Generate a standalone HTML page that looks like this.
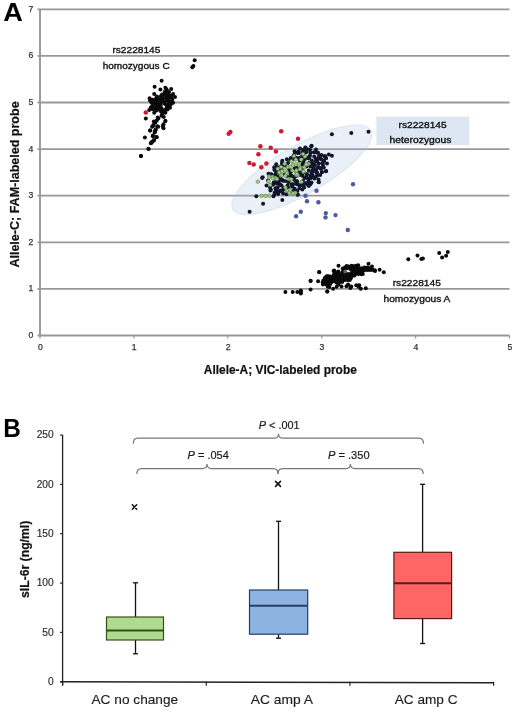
<!DOCTYPE html>
<html><head><meta charset="utf-8"><style>
html,body{margin:0;padding:0;background:#fff;overflow:hidden;}
svg{display:block;will-change:transform;}
text{font-family:"Liberation Sans",sans-serif;}
.tk{font-size:8.6px;fill:#333;stroke:#333;stroke-width:0.25px;}
.an{font-size:9.9px;fill:#111;stroke:#111;stroke-width:0.35px;}
.at{font-size:12px;font-weight:bold;fill:#111;stroke:#111;stroke-width:0.2px;}
.pl{font-size:25px;font-weight:bold;fill:#000;}
.tb{font-size:10.2px;fill:#2a2a2a;stroke:#2a2a2a;stroke-width:0.15px;}
.pv{font-size:11.4px;fill:#1a1a1a;stroke:#1a1a1a;stroke-width:0.2px;}
.cl{font-size:13px;fill:#1e1e1e;stroke:#1e1e1e;stroke-width:0.15px;}
.xo{font-size:9px;font-weight:bold;fill:#111;}
</style></head><body>
<svg width="520" height="712" viewBox="0 0 520 712">
<rect width="520" height="712" fill="#fff"/>
<line x1="37.5" y1="288.9" x2="509.5" y2="288.9" stroke="#989898" stroke-width="1.8"/>
<line x1="37.5" y1="242.3" x2="509.5" y2="242.3" stroke="#989898" stroke-width="1.8"/>
<line x1="37.5" y1="195.7" x2="509.5" y2="195.7" stroke="#989898" stroke-width="1.8"/>
<line x1="37.5" y1="149.1" x2="509.5" y2="149.1" stroke="#989898" stroke-width="1.8"/>
<line x1="37.5" y1="102.5" x2="509.5" y2="102.5" stroke="#989898" stroke-width="1.8"/>
<line x1="37.5" y1="55.9" x2="509.5" y2="55.9" stroke="#989898" stroke-width="1.8"/>
<line x1="37.5" y1="9.3" x2="509.5" y2="9.3" stroke="#989898" stroke-width="1.8"/>
<line x1="40.0" y1="9.3" x2="40.0" y2="336.2" stroke="#989898" stroke-width="1.9"/>
<line x1="37.5" y1="335.5" x2="509.5" y2="335.5" stroke="#989898" stroke-width="1.9"/>
<line x1="40.0" y1="335.5" x2="40.0" y2="338.5" stroke="#989898" stroke-width="1.2"/>
<line x1="133.9" y1="335.5" x2="133.9" y2="338.5" stroke="#989898" stroke-width="1.2"/>
<line x1="227.8" y1="335.5" x2="227.8" y2="338.5" stroke="#989898" stroke-width="1.2"/>
<line x1="321.7" y1="335.5" x2="321.7" y2="338.5" stroke="#989898" stroke-width="1.2"/>
<line x1="415.6" y1="335.5" x2="415.6" y2="338.5" stroke="#989898" stroke-width="1.2"/>
<line x1="509.5" y1="335.5" x2="509.5" y2="338.5" stroke="#989898" stroke-width="1.2"/>
<text x="33.4" y="337.9" class="tk" text-anchor="end">0</text>
<text x="33.4" y="291.3" class="tk" text-anchor="end">1</text>
<text x="33.4" y="244.7" class="tk" text-anchor="end">2</text>
<text x="33.4" y="198.1" class="tk" text-anchor="end">3</text>
<text x="33.4" y="151.5" class="tk" text-anchor="end">4</text>
<text x="33.4" y="104.9" class="tk" text-anchor="end">5</text>
<text x="33.4" y="58.3" class="tk" text-anchor="end">6</text>
<text x="33.4" y="11.7" class="tk" text-anchor="end">7</text>
<text x="40.3" y="350.1" class="tk" text-anchor="middle">0</text>
<text x="134.2" y="350.1" class="tk" text-anchor="middle">1</text>
<text x="228.1" y="350.1" class="tk" text-anchor="middle">2</text>
<text x="322.0" y="350.1" class="tk" text-anchor="middle">3</text>
<text x="415.9" y="350.1" class="tk" text-anchor="middle">4</text>
<text x="509.8" y="350.1" class="tk" text-anchor="middle">5</text>
<ellipse cx="301.8" cy="169.7" rx="79.5" ry="24.3" transform="rotate(-29.8 301.8 169.7)" fill="#a9bfe2" fill-opacity="0.24" stroke="#a9bfe2" stroke-opacity="0.35" stroke-width="1"/>
<circle cx="161.6" cy="80.7" r="2.0" fill="#0a0a0a"/>
<circle cx="154.6" cy="86.8" r="2.0" fill="#0a0a0a"/>
<circle cx="160.4" cy="89.5" r="2.0" fill="#0a0a0a"/>
<circle cx="165.4" cy="87.8" r="2.0" fill="#0a0a0a"/>
<circle cx="166.5" cy="89.3" r="2.0" fill="#0a0a0a"/>
<circle cx="171.2" cy="89.1" r="2.0" fill="#0a0a0a"/>
<circle cx="154.2" cy="93.9" r="2.0" fill="#0a0a0a"/>
<circle cx="156.9" cy="96.6" r="2.0" fill="#0a0a0a"/>
<circle cx="160.8" cy="96.2" r="2.0" fill="#0a0a0a"/>
<circle cx="164.6" cy="92.0" r="2.0" fill="#0a0a0a"/>
<circle cx="166.5" cy="93.5" r="2.0" fill="#0a0a0a"/>
<circle cx="169.2" cy="95.1" r="2.0" fill="#0a0a0a"/>
<circle cx="173.1" cy="93.9" r="2.0" fill="#0a0a0a"/>
<circle cx="175.0" cy="97.0" r="2.0" fill="#0a0a0a"/>
<circle cx="149.6" cy="98.2" r="2.0" fill="#0a0a0a"/>
<circle cx="150.0" cy="100.5" r="2.0" fill="#0a0a0a"/>
<circle cx="152.3" cy="99.7" r="2.0" fill="#0a0a0a"/>
<circle cx="153.5" cy="102.0" r="2.0" fill="#0a0a0a"/>
<circle cx="155.4" cy="101.2" r="2.0" fill="#0a0a0a"/>
<circle cx="158.1" cy="100.5" r="2.0" fill="#0a0a0a"/>
<circle cx="160.4" cy="99.3" r="2.0" fill="#0a0a0a"/>
<circle cx="163.1" cy="98.2" r="2.0" fill="#0a0a0a"/>
<circle cx="166.2" cy="97.4" r="2.0" fill="#0a0a0a"/>
<circle cx="168.5" cy="98.5" r="2.0" fill="#0a0a0a"/>
<circle cx="170.8" cy="97.4" r="2.0" fill="#0a0a0a"/>
<circle cx="172.3" cy="99.7" r="2.0" fill="#0a0a0a"/>
<circle cx="173.1" cy="102.8" r="2.0" fill="#0a0a0a"/>
<circle cx="170.8" cy="102.0" r="2.0" fill="#0a0a0a"/>
<circle cx="168.5" cy="101.2" r="2.0" fill="#0a0a0a"/>
<circle cx="166.2" cy="100.5" r="2.0" fill="#0a0a0a"/>
<circle cx="163.1" cy="101.2" r="2.0" fill="#0a0a0a"/>
<circle cx="160.8" cy="102.4" r="2.0" fill="#0a0a0a"/>
<circle cx="158.5" cy="103.5" r="2.0" fill="#0a0a0a"/>
<circle cx="156.2" cy="103.9" r="2.0" fill="#0a0a0a"/>
<circle cx="153.8" cy="104.3" r="2.0" fill="#0a0a0a"/>
<circle cx="152.3" cy="105.8" r="2.0" fill="#0a0a0a"/>
<circle cx="150.8" cy="107.4" r="2.0" fill="#0a0a0a"/>
<circle cx="149.2" cy="110.1" r="2.0" fill="#0a0a0a"/>
<circle cx="153.5" cy="108.9" r="2.0" fill="#0a0a0a"/>
<circle cx="154.2" cy="112.8" r="2.0" fill="#0a0a0a"/>
<circle cx="156.2" cy="107.4" r="2.0" fill="#0a0a0a"/>
<circle cx="158.5" cy="106.6" r="2.0" fill="#0a0a0a"/>
<circle cx="160.8" cy="105.1" r="2.0" fill="#0a0a0a"/>
<circle cx="161.5" cy="108.2" r="2.0" fill="#0a0a0a"/>
<circle cx="166.2" cy="105.1" r="2.0" fill="#0a0a0a"/>
<circle cx="168.5" cy="104.3" r="2.0" fill="#0a0a0a"/>
<circle cx="170.8" cy="104.3" r="2.0" fill="#0a0a0a"/>
<circle cx="170.0" cy="107.8" r="2.0" fill="#0a0a0a"/>
<circle cx="166.9" cy="107.4" r="2.0" fill="#0a0a0a"/>
<circle cx="165.4" cy="109.7" r="2.0" fill="#0a0a0a"/>
<circle cx="163.1" cy="110.5" r="2.0" fill="#0a0a0a"/>
<circle cx="160.8" cy="111.2" r="2.0" fill="#0a0a0a"/>
<circle cx="162.3" cy="113.5" r="2.0" fill="#0a0a0a"/>
<circle cx="165.4" cy="112.8" r="2.0" fill="#0a0a0a"/>
<circle cx="161.5" cy="115.8" r="2.0" fill="#0a0a0a"/>
<circle cx="157.7" cy="117.4" r="2.0" fill="#0a0a0a"/>
<circle cx="163.8" cy="117.0" r="2.0" fill="#0a0a0a"/>
<circle cx="167.5" cy="95.5" r="2.0" fill="#0a0a0a"/>
<circle cx="164.0" cy="95.0" r="2.0" fill="#0a0a0a"/>
<circle cx="162.0" cy="94.5" r="2.0" fill="#0a0a0a"/>
<circle cx="167.0" cy="91.0" r="2.0" fill="#0a0a0a"/>
<circle cx="169.0" cy="92.0" r="2.0" fill="#0a0a0a"/>
<circle cx="171.5" cy="96.0" r="2.0" fill="#0a0a0a"/>
<circle cx="157.5" cy="98.5" r="2.0" fill="#0a0a0a"/>
<circle cx="155.5" cy="99.0" r="2.0" fill="#0a0a0a"/>
<circle cx="151.5" cy="102.5" r="2.0" fill="#0a0a0a"/>
<circle cx="157.0" cy="105.5" r="2.0" fill="#0a0a0a"/>
<circle cx="155.0" cy="106.0" r="2.0" fill="#0a0a0a"/>
<circle cx="152.0" cy="109.0" r="2.0" fill="#0a0a0a"/>
<circle cx="168.0" cy="99.5" r="2.0" fill="#0a0a0a"/>
<circle cx="164.5" cy="103.5" r="2.0" fill="#0a0a0a"/>
<circle cx="169.5" cy="106.0" r="2.0" fill="#0a0a0a"/>
<circle cx="167.5" cy="109.5" r="2.0" fill="#0a0a0a"/>
<circle cx="158.5" cy="109.0" r="2.0" fill="#0a0a0a"/>
<circle cx="156.5" cy="110.5" r="2.0" fill="#0a0a0a"/>
<circle cx="145.8" cy="118.4" r="2.0" fill="#0a0a0a"/>
<circle cx="165.4" cy="121.1" r="2.0" fill="#0a0a0a"/>
<circle cx="158.4" cy="118.6" r="2.0" fill="#0a0a0a"/>
<circle cx="155.3" cy="122.4" r="2.0" fill="#0a0a0a"/>
<circle cx="153.4" cy="124.9" r="2.0" fill="#0a0a0a"/>
<circle cx="152.1" cy="126.8" r="2.0" fill="#0a0a0a"/>
<circle cx="157.2" cy="126.2" r="2.0" fill="#0a0a0a"/>
<circle cx="162.9" cy="126.8" r="2.0" fill="#0a0a0a"/>
<circle cx="163.5" cy="124.3" r="2.0" fill="#0a0a0a"/>
<circle cx="153.8" cy="121.4" r="2.0" fill="#0a0a0a"/>
<circle cx="156.7" cy="120.5" r="2.0" fill="#0a0a0a"/>
<circle cx="165.4" cy="121.0" r="2.0" fill="#0a0a0a"/>
<circle cx="152.9" cy="126.3" r="2.0" fill="#0a0a0a"/>
<circle cx="158.2" cy="126.7" r="2.0" fill="#0a0a0a"/>
<circle cx="163.0" cy="125.8" r="2.0" fill="#0a0a0a"/>
<circle cx="163.5" cy="128.2" r="2.0" fill="#0a0a0a"/>
<circle cx="150.2" cy="130.6" r="2.0" fill="#0a0a0a"/>
<circle cx="155.3" cy="130.6" r="2.0" fill="#0a0a0a"/>
<circle cx="154.7" cy="132.5" r="2.0" fill="#0a0a0a"/>
<circle cx="152.8" cy="136.3" r="2.0" fill="#0a0a0a"/>
<circle cx="156.5" cy="137.0" r="2.0" fill="#0a0a0a"/>
<circle cx="144.9" cy="137.6" r="2.0" fill="#0a0a0a"/>
<circle cx="154.0" cy="140.1" r="2.0" fill="#0a0a0a"/>
<circle cx="152.1" cy="142.0" r="2.0" fill="#0a0a0a"/>
<circle cx="150.9" cy="143.3" r="2.0" fill="#0a0a0a"/>
<circle cx="148.6" cy="149.0" r="2.0" fill="#0a0a0a"/>
<circle cx="141.0" cy="155.9" r="2.0" fill="#0a0a0a"/>
<circle cx="150.0" cy="130.6" r="2.0" fill="#0a0a0a"/>
<circle cx="154.8" cy="131.5" r="2.0" fill="#0a0a0a"/>
<circle cx="155.8" cy="129.6" r="2.0" fill="#0a0a0a"/>
<circle cx="152.9" cy="135.4" r="2.0" fill="#0a0a0a"/>
<circle cx="156.7" cy="137.3" r="2.0" fill="#0a0a0a"/>
<circle cx="153.8" cy="140.4" r="2.0" fill="#0a0a0a"/>
<circle cx="152.4" cy="141.6" r="2.0" fill="#0a0a0a"/>
<circle cx="151.0" cy="143.1" r="2.0" fill="#0a0a0a"/>
<circle cx="148.4" cy="148.8" r="2.0" fill="#0a0a0a"/>
<circle cx="140.9" cy="156.1" r="2.0" fill="#0a0a0a"/>
<circle cx="194.7" cy="60.3" r="2.0" fill="#0a0a0a"/>
<circle cx="193.4" cy="66.1" r="2.0" fill="#0a0a0a"/>
<circle cx="192.3" cy="67.3" r="2.0" fill="#0a0a0a"/>
<circle cx="145.8" cy="112.5" r="2.25" fill="#cf1a36"/>
<circle cx="294.6" cy="151.2" r="2.0" fill="#11152a"/>
<circle cx="297.7" cy="152.7" r="2.0" fill="#11152a"/>
<circle cx="282.3" cy="160.8" r="2.0" fill="#11152a"/>
<circle cx="281.9" cy="163.1" r="2.0" fill="#11152a"/>
<circle cx="286.9" cy="159.2" r="2.0" fill="#11152a"/>
<circle cx="290.8" cy="158.1" r="2.0" fill="#11152a"/>
<circle cx="296.2" cy="157.7" r="2.0" fill="#11152a"/>
<circle cx="276.2" cy="164.2" r="2.0" fill="#11152a"/>
<circle cx="274.2" cy="167.3" r="2.0" fill="#11152a"/>
<circle cx="274.6" cy="169.2" r="2.0" fill="#11152a"/>
<circle cx="280.0" cy="166.9" r="2.0" fill="#11152a"/>
<circle cx="289.2" cy="169.2" r="2.0" fill="#11152a"/>
<circle cx="290.0" cy="172.3" r="2.0" fill="#11152a"/>
<circle cx="290.8" cy="175.4" r="2.0" fill="#11152a"/>
<circle cx="286.9" cy="176.2" r="2.0" fill="#11152a"/>
<circle cx="284.6" cy="174.6" r="2.0" fill="#11152a"/>
<circle cx="268.5" cy="173.8" r="2.0" fill="#11152a"/>
<circle cx="271.5" cy="174.6" r="2.0" fill="#11152a"/>
<circle cx="275.4" cy="174.6" r="2.0" fill="#11152a"/>
<circle cx="262.7" cy="177.3" r="2.0" fill="#11152a"/>
<circle cx="294.6" cy="168.5" r="2.0" fill="#11152a"/>
<circle cx="295.4" cy="159.2" r="2.0" fill="#11152a"/>
<circle cx="299.2" cy="169.2" r="2.0" fill="#11152a"/>
<circle cx="289.2" cy="177.7" r="2.0" fill="#11152a"/>
<circle cx="293.8" cy="178.5" r="2.0" fill="#11152a"/>
<circle cx="311.2" cy="146.2" r="2.0" fill="#11152a"/>
<circle cx="305.4" cy="147.7" r="2.0" fill="#11152a"/>
<circle cx="298.5" cy="151.2" r="2.0" fill="#11152a"/>
<circle cx="298.1" cy="153.1" r="2.0" fill="#11152a"/>
<circle cx="306.2" cy="152.3" r="2.0" fill="#11152a"/>
<circle cx="310.4" cy="152.7" r="2.0" fill="#11152a"/>
<circle cx="313.8" cy="152.3" r="2.0" fill="#11152a"/>
<circle cx="318.1" cy="152.7" r="2.0" fill="#11152a"/>
<circle cx="321.5" cy="155.0" r="2.0" fill="#11152a"/>
<circle cx="324.6" cy="156.5" r="2.0" fill="#11152a"/>
<circle cx="328.8" cy="154.6" r="2.0" fill="#11152a"/>
<circle cx="331.9" cy="155.8" r="2.0" fill="#11152a"/>
<circle cx="321.2" cy="159.2" r="2.0" fill="#11152a"/>
<circle cx="323.8" cy="161.5" r="2.0" fill="#11152a"/>
<circle cx="318.1" cy="158.8" r="2.0" fill="#11152a"/>
<circle cx="314.2" cy="156.5" r="2.0" fill="#11152a"/>
<circle cx="311.9" cy="160.4" r="2.0" fill="#11152a"/>
<circle cx="315.8" cy="161.2" r="2.0" fill="#11152a"/>
<circle cx="318.8" cy="163.5" r="2.0" fill="#11152a"/>
<circle cx="315.0" cy="165.0" r="2.0" fill="#11152a"/>
<circle cx="312.7" cy="163.5" r="2.0" fill="#11152a"/>
<circle cx="310.4" cy="166.5" r="2.0" fill="#11152a"/>
<circle cx="313.5" cy="168.1" r="2.0" fill="#11152a"/>
<circle cx="317.3" cy="168.1" r="2.0" fill="#11152a"/>
<circle cx="321.2" cy="168.1" r="2.0" fill="#11152a"/>
<circle cx="321.9" cy="171.9" r="2.0" fill="#11152a"/>
<circle cx="325.8" cy="171.2" r="2.0" fill="#11152a"/>
<circle cx="316.5" cy="172.3" r="2.0" fill="#11152a"/>
<circle cx="312.7" cy="171.9" r="2.0" fill="#11152a"/>
<circle cx="308.8" cy="170.4" r="2.0" fill="#11152a"/>
<circle cx="306.5" cy="166.5" r="2.0" fill="#11152a"/>
<circle cx="303.5" cy="161.9" r="2.0" fill="#11152a"/>
<circle cx="302.7" cy="168.1" r="2.0" fill="#11152a"/>
<circle cx="301.9" cy="156.5" r="2.0" fill="#11152a"/>
<circle cx="309.2" cy="157.3" r="2.0" fill="#11152a"/>
<circle cx="266.5" cy="185.5" r="2.0" fill="#11152a"/>
<circle cx="270.4" cy="190.5" r="2.0" fill="#11152a"/>
<circle cx="273.5" cy="196.2" r="2.0" fill="#11152a"/>
<circle cx="282.3" cy="200.1" r="2.0" fill="#11152a"/>
<circle cx="273.8" cy="182.4" r="2.0" fill="#11152a"/>
<circle cx="272.7" cy="184.7" r="2.0" fill="#11152a"/>
<circle cx="275.4" cy="188.2" r="2.0" fill="#11152a"/>
<circle cx="277.7" cy="187.4" r="2.0" fill="#11152a"/>
<circle cx="280.0" cy="184.7" r="2.0" fill="#11152a"/>
<circle cx="281.5" cy="185.5" r="2.0" fill="#11152a"/>
<circle cx="275.4" cy="192.0" r="2.0" fill="#11152a"/>
<circle cx="274.6" cy="194.3" r="2.0" fill="#11152a"/>
<circle cx="278.5" cy="191.2" r="2.0" fill="#11152a"/>
<circle cx="280.8" cy="190.5" r="2.0" fill="#11152a"/>
<circle cx="283.1" cy="193.5" r="2.0" fill="#11152a"/>
<circle cx="286.5" cy="194.3" r="2.0" fill="#11152a"/>
<circle cx="280.8" cy="178.9" r="2.0" fill="#11152a"/>
<circle cx="282.3" cy="179.7" r="2.0" fill="#11152a"/>
<circle cx="270.8" cy="174.3" r="2.0" fill="#11152a"/>
<circle cx="275.4" cy="175.1" r="2.0" fill="#11152a"/>
<circle cx="278.5" cy="176.2" r="2.0" fill="#11152a"/>
<circle cx="288.5" cy="182.0" r="2.0" fill="#11152a"/>
<circle cx="291.5" cy="184.3" r="2.0" fill="#11152a"/>
<circle cx="292.3" cy="186.6" r="2.0" fill="#11152a"/>
<circle cx="294.6" cy="189.3" r="2.0" fill="#11152a"/>
<circle cx="296.9" cy="181.2" r="2.0" fill="#11152a"/>
<circle cx="297.7" cy="194.7" r="2.0" fill="#11152a"/>
<circle cx="286.2" cy="173.5" r="2.0" fill="#11152a"/>
<circle cx="290.8" cy="175.1" r="2.0" fill="#11152a"/>
<circle cx="326.2" cy="171.1" r="2.0" fill="#11152a"/>
<circle cx="321.9" cy="172.2" r="2.0" fill="#11152a"/>
<circle cx="316.9" cy="172.2" r="2.0" fill="#11152a"/>
<circle cx="317.7" cy="174.9" r="2.0" fill="#11152a"/>
<circle cx="312.3" cy="174.9" r="2.0" fill="#11152a"/>
<circle cx="310.4" cy="175.7" r="2.0" fill="#11152a"/>
<circle cx="318.5" cy="179.5" r="2.0" fill="#11152a"/>
<circle cx="318.8" cy="182.2" r="2.0" fill="#11152a"/>
<circle cx="308.5" cy="179.5" r="2.0" fill="#11152a"/>
<circle cx="306.2" cy="183.0" r="2.0" fill="#11152a"/>
<circle cx="311.5" cy="182.6" r="2.0" fill="#11152a"/>
<circle cx="310.4" cy="184.2" r="2.0" fill="#11152a"/>
<circle cx="308.8" cy="186.1" r="2.0" fill="#11152a"/>
<circle cx="304.2" cy="187.6" r="2.0" fill="#11152a"/>
<circle cx="302.3" cy="189.5" r="2.0" fill="#11152a"/>
<circle cx="296.9" cy="181.5" r="2.0" fill="#11152a"/>
<circle cx="293.1" cy="184.2" r="2.0" fill="#11152a"/>
<circle cx="294.6" cy="188.8" r="2.0" fill="#11152a"/>
<circle cx="297.7" cy="194.5" r="2.0" fill="#11152a"/>
<circle cx="302.3" cy="175.7" r="2.0" fill="#11152a"/>
<circle cx="291.5" cy="171.1" r="2.0" fill="#11152a"/>
<circle cx="320.8" cy="168.8" r="2.0" fill="#11152a"/>
<circle cx="331.9" cy="134.2" r="2.0" fill="#11152a"/>
<circle cx="351.3" cy="133.1" r="2.0" fill="#11152a"/>
<circle cx="368.5" cy="131.7" r="2.0" fill="#11152a"/>
<circle cx="263.1" cy="203.7" r="2.0" fill="#11152a"/>
<circle cx="249.6" cy="211.7" r="2.0" fill="#11152a"/>
<circle cx="256.3" cy="196.3" r="2.0" fill="#11152a"/>
<circle cx="262.1" cy="178.1" r="2.0" fill="#11152a"/>
<circle cx="305.5" cy="147.5" r="2.0" fill="#11152a"/>
<circle cx="311.7" cy="145.8" r="2.0" fill="#11152a"/>
<circle cx="318.6" cy="182.1" r="2.0" fill="#11152a"/>
<circle cx="300.0" cy="172.0" r="2.0" fill="#11152a"/>
<circle cx="304.5" cy="178.0" r="2.0" fill="#11152a"/>
<circle cx="307.0" cy="174.0" r="2.0" fill="#11152a"/>
<circle cx="299.0" cy="185.0" r="2.0" fill="#11152a"/>
<circle cx="285.0" cy="166.0" r="2.0" fill="#11152a"/>
<circle cx="288.0" cy="163.0" r="2.0" fill="#11152a"/>
<circle cx="292.0" cy="160.0" r="2.0" fill="#11152a"/>
<circle cx="300.0" cy="148.5" r="2.0" fill="#11152a"/>
<circle cx="303.0" cy="150.0" r="2.0" fill="#11152a"/>
<circle cx="308.0" cy="149.5" r="2.0" fill="#11152a"/>
<circle cx="316.0" cy="149.5" r="2.0" fill="#11152a"/>
<circle cx="319.0" cy="156.0" r="2.0" fill="#11152a"/>
<circle cx="326.0" cy="158.0" r="2.0" fill="#11152a"/>
<circle cx="323.0" cy="165.0" r="2.0" fill="#11152a"/>
<circle cx="327.0" cy="163.5" r="2.0" fill="#11152a"/>
<circle cx="305.0" cy="159.0" r="2.0" fill="#11152a"/>
<circle cx="309.0" cy="163.0" r="2.0" fill="#11152a"/>
<circle cx="285.0" cy="181.0" r="2.0" fill="#11152a"/>
<circle cx="287.5" cy="185.5" r="2.0" fill="#11152a"/>
<circle cx="279.0" cy="181.5" r="2.0" fill="#11152a"/>
<circle cx="283.5" cy="188.0" r="2.0" fill="#11152a"/>
<circle cx="277.0" cy="191.0" r="2.0" fill="#11152a"/>
<circle cx="270.0" cy="187.5" r="2.0" fill="#11152a"/>
<circle cx="268.0" cy="180.5" r="2.0" fill="#11152a"/>
<circle cx="304.9" cy="149.7" r="2.0" fill="#11152a"/>
<circle cx="310.1" cy="149.8" r="2.0" fill="#11152a"/>
<circle cx="295.1" cy="152.4" r="2.0" fill="#11152a"/>
<circle cx="298.9" cy="153.0" r="2.0" fill="#11152a"/>
<circle cx="302.5" cy="152.8" r="2.0" fill="#11152a"/>
<circle cx="316.7" cy="152.4" r="2.0" fill="#11152a"/>
<circle cx="293.7" cy="155.3" r="2.0" fill="#11152a"/>
<circle cx="303.5" cy="154.3" r="2.0" fill="#11152a"/>
<circle cx="310.0" cy="155.4" r="2.0" fill="#11152a"/>
<circle cx="325.0" cy="155.9" r="2.0" fill="#11152a"/>
<circle cx="294.9" cy="158.5" r="2.0" fill="#11152a"/>
<circle cx="299.2" cy="158.0" r="2.0" fill="#11152a"/>
<circle cx="306.6" cy="157.6" r="2.0" fill="#11152a"/>
<circle cx="308.8" cy="158.4" r="2.0" fill="#11152a"/>
<circle cx="315.9" cy="158.8" r="2.0" fill="#11152a"/>
<circle cx="319.7" cy="157.5" r="2.0" fill="#11152a"/>
<circle cx="326.0" cy="158.2" r="2.0" fill="#11152a"/>
<circle cx="290.4" cy="160.3" r="2.0" fill="#11152a"/>
<circle cx="299.8" cy="160.4" r="2.0" fill="#11152a"/>
<circle cx="303.2" cy="161.6" r="2.0" fill="#11152a"/>
<circle cx="317.2" cy="161.0" r="2.0" fill="#11152a"/>
<circle cx="323.9" cy="160.6" r="2.0" fill="#11152a"/>
<circle cx="282.2" cy="164.7" r="2.0" fill="#11152a"/>
<circle cx="302.5" cy="164.5" r="2.0" fill="#11152a"/>
<circle cx="313.1" cy="163.9" r="2.0" fill="#11152a"/>
<circle cx="322.2" cy="163.3" r="2.0" fill="#11152a"/>
<circle cx="277.3" cy="167.2" r="2.0" fill="#11152a"/>
<circle cx="296.4" cy="167.8" r="2.0" fill="#11152a"/>
<circle cx="311.7" cy="166.5" r="2.0" fill="#11152a"/>
<circle cx="318.4" cy="166.9" r="2.0" fill="#11152a"/>
<circle cx="323.8" cy="167.4" r="2.0" fill="#11152a"/>
<circle cx="274.5" cy="169.9" r="2.0" fill="#11152a"/>
<circle cx="278.1" cy="169.9" r="2.0" fill="#11152a"/>
<circle cx="281.8" cy="169.7" r="2.0" fill="#11152a"/>
<circle cx="312.5" cy="170.4" r="2.0" fill="#11152a"/>
<circle cx="315.8" cy="170.2" r="2.0" fill="#11152a"/>
<circle cx="276.3" cy="172.2" r="2.0" fill="#11152a"/>
<circle cx="290.4" cy="172.8" r="2.0" fill="#11152a"/>
<circle cx="297.9" cy="172.2" r="2.0" fill="#11152a"/>
<circle cx="301.1" cy="172.6" r="2.0" fill="#11152a"/>
<circle cx="303.5" cy="172.8" r="2.0" fill="#11152a"/>
<circle cx="311.5" cy="173.0" r="2.0" fill="#11152a"/>
<circle cx="271.0" cy="175.5" r="2.0" fill="#11152a"/>
<circle cx="292.7" cy="176.6" r="2.0" fill="#11152a"/>
<circle cx="295.8" cy="176.2" r="2.0" fill="#11152a"/>
<circle cx="298.8" cy="174.9" r="2.0" fill="#11152a"/>
<circle cx="302.2" cy="175.0" r="2.0" fill="#11152a"/>
<circle cx="306.5" cy="175.8" r="2.0" fill="#11152a"/>
<circle cx="312.8" cy="176.3" r="2.0" fill="#11152a"/>
<circle cx="316.2" cy="176.2" r="2.0" fill="#11152a"/>
<circle cx="320.2" cy="175.1" r="2.0" fill="#11152a"/>
<circle cx="276.5" cy="177.8" r="2.0" fill="#11152a"/>
<circle cx="289.7" cy="179.4" r="2.0" fill="#11152a"/>
<circle cx="293.9" cy="179.5" r="2.0" fill="#11152a"/>
<circle cx="307.4" cy="178.2" r="2.0" fill="#11152a"/>
<circle cx="311.0" cy="178.0" r="2.0" fill="#11152a"/>
<circle cx="314.6" cy="178.6" r="2.0" fill="#11152a"/>
<circle cx="275.4" cy="182.1" r="2.0" fill="#11152a"/>
<circle cx="282.7" cy="180.8" r="2.0" fill="#11152a"/>
<circle cx="288.1" cy="181.7" r="2.0" fill="#11152a"/>
<circle cx="295.8" cy="181.4" r="2.0" fill="#11152a"/>
<circle cx="303.0" cy="180.9" r="2.0" fill="#11152a"/>
<circle cx="308.7" cy="181.5" r="2.0" fill="#11152a"/>
<circle cx="274.0" cy="183.8" r="2.0" fill="#11152a"/>
<circle cx="277.2" cy="183.8" r="2.0" fill="#11152a"/>
<circle cx="280.7" cy="184.9" r="2.0" fill="#11152a"/>
<circle cx="296.9" cy="184.2" r="2.0" fill="#11152a"/>
<circle cx="301.5" cy="185.3" r="2.0" fill="#11152a"/>
<circle cx="303.9" cy="184.3" r="2.0" fill="#11152a"/>
<circle cx="307.3" cy="184.4" r="2.0" fill="#11152a"/>
<circle cx="288.8" cy="188.0" r="2.0" fill="#11152a"/>
<circle cx="299.4" cy="188.3" r="2.0" fill="#11152a"/>
<circle cx="270.9" cy="189.7" r="2.0" fill="#11152a"/>
<circle cx="276.3" cy="189.7" r="2.0" fill="#11152a"/>
<circle cx="280.5" cy="191.2" r="2.0" fill="#11152a"/>
<circle cx="283.0" cy="189.9" r="2.0" fill="#11152a"/>
<circle cx="293.3" cy="190.9" r="2.0" fill="#11152a"/>
<circle cx="297.4" cy="191.0" r="2.0" fill="#11152a"/>
<circle cx="274.6" cy="192.8" r="2.0" fill="#11152a"/>
<circle cx="278.2" cy="194.1" r="2.0" fill="#11152a"/>
<circle cx="284.6" cy="163.8" r="1.8" fill="#a3c98a" stroke="#4a7236" stroke-width="0.5"/>
<circle cx="284.6" cy="168.5" r="1.8" fill="#a3c98a" stroke="#4a7236" stroke-width="0.5"/>
<circle cx="286.2" cy="172.3" r="1.8" fill="#a3c98a" stroke="#4a7236" stroke-width="0.5"/>
<circle cx="277.7" cy="168.8" r="1.8" fill="#a3c98a" stroke="#4a7236" stroke-width="0.5"/>
<circle cx="279.2" cy="172.3" r="1.8" fill="#a3c98a" stroke="#4a7236" stroke-width="0.5"/>
<circle cx="291.5" cy="161.2" r="1.8" fill="#a3c98a" stroke="#4a7236" stroke-width="0.5"/>
<circle cx="293.1" cy="164.6" r="1.8" fill="#a3c98a" stroke="#4a7236" stroke-width="0.5"/>
<circle cx="298.5" cy="164.6" r="1.8" fill="#a3c98a" stroke="#4a7236" stroke-width="0.5"/>
<circle cx="296.2" cy="172.3" r="1.8" fill="#a3c98a" stroke="#4a7236" stroke-width="0.5"/>
<circle cx="297.7" cy="175.4" r="1.8" fill="#a3c98a" stroke="#4a7236" stroke-width="0.5"/>
<circle cx="280.8" cy="175.4" r="1.8" fill="#a3c98a" stroke="#4a7236" stroke-width="0.5"/>
<circle cx="269.2" cy="176.2" r="1.8" fill="#a3c98a" stroke="#4a7236" stroke-width="0.5"/>
<circle cx="272.3" cy="176.9" r="1.8" fill="#a3c98a" stroke="#4a7236" stroke-width="0.5"/>
<circle cx="275.4" cy="177.7" r="1.8" fill="#a3c98a" stroke="#4a7236" stroke-width="0.5"/>
<circle cx="305.0" cy="156.5" r="1.8" fill="#a3c98a" stroke="#4a7236" stroke-width="0.5"/>
<circle cx="301.2" cy="159.6" r="1.8" fill="#a3c98a" stroke="#4a7236" stroke-width="0.5"/>
<circle cx="298.8" cy="164.2" r="1.8" fill="#a3c98a" stroke="#4a7236" stroke-width="0.5"/>
<circle cx="308.5" cy="163.8" r="1.8" fill="#a3c98a" stroke="#4a7236" stroke-width="0.5"/>
<circle cx="300.4" cy="168.1" r="1.8" fill="#a3c98a" stroke="#4a7236" stroke-width="0.5"/>
<circle cx="303.5" cy="171.9" r="1.8" fill="#a3c98a" stroke="#4a7236" stroke-width="0.5"/>
<circle cx="295.8" cy="159.6" r="1.8" fill="#a3c98a" stroke="#4a7236" stroke-width="0.5"/>
<circle cx="296.5" cy="170.4" r="1.8" fill="#a3c98a" stroke="#4a7236" stroke-width="0.5"/>
<circle cx="269.2" cy="177.4" r="1.8" fill="#a3c98a" stroke="#4a7236" stroke-width="0.5"/>
<circle cx="272.7" cy="178.2" r="1.8" fill="#a3c98a" stroke="#4a7236" stroke-width="0.5"/>
<circle cx="276.9" cy="178.9" r="1.8" fill="#a3c98a" stroke="#4a7236" stroke-width="0.5"/>
<circle cx="281.5" cy="175.1" r="1.8" fill="#a3c98a" stroke="#4a7236" stroke-width="0.5"/>
<circle cx="285.4" cy="187.4" r="1.8" fill="#a3c98a" stroke="#4a7236" stroke-width="0.5"/>
<circle cx="286.9" cy="190.5" r="1.8" fill="#a3c98a" stroke="#4a7236" stroke-width="0.5"/>
<circle cx="289.2" cy="192.8" r="1.8" fill="#a3c98a" stroke="#4a7236" stroke-width="0.5"/>
<circle cx="292.3" cy="193.2" r="1.8" fill="#a3c98a" stroke="#4a7236" stroke-width="0.5"/>
<circle cx="295.4" cy="192.8" r="1.8" fill="#a3c98a" stroke="#4a7236" stroke-width="0.5"/>
<circle cx="288.5" cy="178.9" r="1.8" fill="#a3c98a" stroke="#4a7236" stroke-width="0.5"/>
<circle cx="290.8" cy="179.7" r="1.8" fill="#a3c98a" stroke="#4a7236" stroke-width="0.5"/>
<circle cx="296.2" cy="175.1" r="1.8" fill="#a3c98a" stroke="#4a7236" stroke-width="0.5"/>
<circle cx="261.5" cy="195.8" r="1.8" fill="#a3c98a" stroke="#4a7236" stroke-width="0.5"/>
<circle cx="265.4" cy="195.8" r="1.8" fill="#a3c98a" stroke="#4a7236" stroke-width="0.5"/>
<circle cx="269.2" cy="195.8" r="1.8" fill="#a3c98a" stroke="#4a7236" stroke-width="0.5"/>
<circle cx="296.9" cy="174.2" r="1.8" fill="#a3c98a" stroke="#4a7236" stroke-width="0.5"/>
<circle cx="300.0" cy="169.2" r="1.8" fill="#a3c98a" stroke="#4a7236" stroke-width="0.5"/>
<circle cx="303.5" cy="171.5" r="1.8" fill="#a3c98a" stroke="#4a7236" stroke-width="0.5"/>
<circle cx="291.2" cy="179.2" r="1.8" fill="#a3c98a" stroke="#4a7236" stroke-width="0.5"/>
<circle cx="301.5" cy="181.8" r="1.8" fill="#a3c98a" stroke="#4a7236" stroke-width="0.5"/>
<circle cx="293.1" cy="193.4" r="1.8" fill="#a3c98a" stroke="#4a7236" stroke-width="0.5"/>
<circle cx="257.8" cy="181.7" r="1.8" fill="#a3c98a" stroke="#4a7236" stroke-width="0.5"/>
<circle cx="288.0" cy="167.0" r="1.8" fill="#a3c98a" stroke="#4a7236" stroke-width="0.5"/>
<circle cx="282.0" cy="171.0" r="1.8" fill="#a3c98a" stroke="#4a7236" stroke-width="0.5"/>
<circle cx="294.0" cy="156.0" r="1.8" fill="#a3c98a" stroke="#4a7236" stroke-width="0.5"/>
<circle cx="303.0" cy="154.0" r="1.8" fill="#a3c98a" stroke="#4a7236" stroke-width="0.5"/>
<circle cx="295.9" cy="164.4" r="1.8" fill="#a3c98a" stroke="#4a7236" stroke-width="0.5"/>
<circle cx="306.5" cy="164.6" r="1.8" fill="#a3c98a" stroke="#4a7236" stroke-width="0.5"/>
<circle cx="280.9" cy="167.0" r="1.8" fill="#a3c98a" stroke="#4a7236" stroke-width="0.5"/>
<circle cx="290.5" cy="167.0" r="1.8" fill="#a3c98a" stroke="#4a7236" stroke-width="0.5"/>
<circle cx="304.1" cy="167.3" r="1.8" fill="#a3c98a" stroke="#4a7236" stroke-width="0.5"/>
<circle cx="292.4" cy="170.5" r="1.8" fill="#a3c98a" stroke="#4a7236" stroke-width="0.5"/>
<circle cx="287.0" cy="173.3" r="1.8" fill="#a3c98a" stroke="#4a7236" stroke-width="0.5"/>
<circle cx="285.5" cy="175.8" r="1.8" fill="#a3c98a" stroke="#4a7236" stroke-width="0.5"/>
<circle cx="268.6" cy="181.4" r="1.8" fill="#a3c98a" stroke="#4a7236" stroke-width="0.5"/>
<circle cx="270.1" cy="184.9" r="1.8" fill="#a3c98a" stroke="#4a7236" stroke-width="0.5"/>
<circle cx="290.0" cy="189.9" r="1.8" fill="#a3c98a" stroke="#4a7236" stroke-width="0.5"/>
<circle cx="228.7" cy="133.8" r="2.25" fill="#cf1a36"/>
<circle cx="230.4" cy="132.1" r="2.25" fill="#cf1a36"/>
<circle cx="260.4" cy="146.3" r="2.25" fill="#cf1a36"/>
<circle cx="270.7" cy="147.7" r="2.25" fill="#cf1a36"/>
<circle cx="275.9" cy="151.5" r="2.25" fill="#cf1a36"/>
<circle cx="258.4" cy="154.3" r="2.25" fill="#cf1a36"/>
<circle cx="249.4" cy="162.9" r="2.25" fill="#cf1a36"/>
<circle cx="253.7" cy="164.4" r="2.25" fill="#cf1a36"/>
<circle cx="261.3" cy="167.3" r="2.25" fill="#cf1a36"/>
<circle cx="266.4" cy="163.6" r="2.25" fill="#cf1a36"/>
<circle cx="281.2" cy="131.3" r="2.25" fill="#cf1a36"/>
<circle cx="298" cy="138.7" r="2.25" fill="#cf1a36"/>
<circle cx="353" cy="184.2" r="2.2" fill="#4e5aa0"/>
<circle cx="316.5" cy="190.8" r="2.2" fill="#4e5aa0"/>
<circle cx="305.5" cy="195.8" r="2.2" fill="#4e5aa0"/>
<circle cx="307" cy="201.2" r="2.2" fill="#4e5aa0"/>
<circle cx="318.4" cy="202.3" r="2.2" fill="#4e5aa0"/>
<circle cx="300.8" cy="211.8" r="2.2" fill="#4e5aa0"/>
<circle cx="296.1" cy="216.2" r="2.2" fill="#4e5aa0"/>
<circle cx="325.8" cy="213.1" r="2.2" fill="#4e5aa0"/>
<circle cx="325.5" cy="217.4" r="2.2" fill="#4e5aa0"/>
<circle cx="335.5" cy="215.1" r="2.2" fill="#4e5aa0"/>
<circle cx="347.8" cy="230" r="2.2" fill="#4e5aa0"/>
<circle cx="346.6" cy="266.1" r="2.0" fill="#0a0a0a"/>
<circle cx="348.8" cy="266.4" r="2.0" fill="#0a0a0a"/>
<circle cx="351.6" cy="265.7" r="2.0" fill="#0a0a0a"/>
<circle cx="353.7" cy="266.3" r="2.0" fill="#0a0a0a"/>
<circle cx="356.0" cy="265.7" r="2.0" fill="#0a0a0a"/>
<circle cx="358.2" cy="265.2" r="2.0" fill="#0a0a0a"/>
<circle cx="342.8" cy="268.4" r="2.0" fill="#0a0a0a"/>
<circle cx="344.9" cy="267.6" r="2.0" fill="#0a0a0a"/>
<circle cx="347.1" cy="268.3" r="2.0" fill="#0a0a0a"/>
<circle cx="349.9" cy="267.7" r="2.0" fill="#0a0a0a"/>
<circle cx="351.9" cy="267.3" r="2.0" fill="#0a0a0a"/>
<circle cx="354.6" cy="267.9" r="2.0" fill="#0a0a0a"/>
<circle cx="357.8" cy="267.8" r="2.0" fill="#0a0a0a"/>
<circle cx="359.4" cy="268.4" r="2.0" fill="#0a0a0a"/>
<circle cx="361.6" cy="268.3" r="2.0" fill="#0a0a0a"/>
<circle cx="364.4" cy="267.5" r="2.0" fill="#0a0a0a"/>
<circle cx="367.4" cy="267.5" r="2.0" fill="#0a0a0a"/>
<circle cx="368.8" cy="268.3" r="2.0" fill="#0a0a0a"/>
<circle cx="371.1" cy="268.1" r="2.0" fill="#0a0a0a"/>
<circle cx="343.7" cy="270.1" r="2.0" fill="#0a0a0a"/>
<circle cx="350.9" cy="269.6" r="2.0" fill="#0a0a0a"/>
<circle cx="353.1" cy="269.7" r="2.0" fill="#0a0a0a"/>
<circle cx="355.7" cy="269.7" r="2.0" fill="#0a0a0a"/>
<circle cx="360.2" cy="269.9" r="2.0" fill="#0a0a0a"/>
<circle cx="363.1" cy="270.5" r="2.0" fill="#0a0a0a"/>
<circle cx="365.2" cy="270.0" r="2.0" fill="#0a0a0a"/>
<circle cx="367.8" cy="270.1" r="2.0" fill="#0a0a0a"/>
<circle cx="370.4" cy="269.9" r="2.0" fill="#0a0a0a"/>
<circle cx="373.0" cy="270.0" r="2.0" fill="#0a0a0a"/>
<circle cx="374.8" cy="270.3" r="2.0" fill="#0a0a0a"/>
<circle cx="335.7" cy="272.3" r="2.0" fill="#0a0a0a"/>
<circle cx="338.4" cy="271.6" r="2.0" fill="#0a0a0a"/>
<circle cx="342.7" cy="271.7" r="2.0" fill="#0a0a0a"/>
<circle cx="344.7" cy="272.5" r="2.0" fill="#0a0a0a"/>
<circle cx="352.2" cy="272.2" r="2.0" fill="#0a0a0a"/>
<circle cx="354.5" cy="272.1" r="2.0" fill="#0a0a0a"/>
<circle cx="357.6" cy="271.6" r="2.0" fill="#0a0a0a"/>
<circle cx="359.2" cy="272.2" r="2.0" fill="#0a0a0a"/>
<circle cx="362.3" cy="271.5" r="2.0" fill="#0a0a0a"/>
<circle cx="334.1" cy="274.2" r="2.0" fill="#0a0a0a"/>
<circle cx="336.8" cy="274.6" r="2.0" fill="#0a0a0a"/>
<circle cx="339.0" cy="274.7" r="2.0" fill="#0a0a0a"/>
<circle cx="341.0" cy="274.0" r="2.0" fill="#0a0a0a"/>
<circle cx="343.5" cy="273.9" r="2.0" fill="#0a0a0a"/>
<circle cx="346.8" cy="274.2" r="2.0" fill="#0a0a0a"/>
<circle cx="348.8" cy="274.0" r="2.0" fill="#0a0a0a"/>
<circle cx="351.1" cy="274.4" r="2.0" fill="#0a0a0a"/>
<circle cx="353.4" cy="273.7" r="2.0" fill="#0a0a0a"/>
<circle cx="355.6" cy="273.7" r="2.0" fill="#0a0a0a"/>
<circle cx="358.4" cy="273.9" r="2.0" fill="#0a0a0a"/>
<circle cx="361.4" cy="274.3" r="2.0" fill="#0a0a0a"/>
<circle cx="362.8" cy="274.0" r="2.0" fill="#0a0a0a"/>
<circle cx="326.3" cy="276.4" r="2.0" fill="#0a0a0a"/>
<circle cx="327.8" cy="276.0" r="2.0" fill="#0a0a0a"/>
<circle cx="330.3" cy="276.6" r="2.0" fill="#0a0a0a"/>
<circle cx="333.5" cy="276.2" r="2.0" fill="#0a0a0a"/>
<circle cx="335.5" cy="275.9" r="2.0" fill="#0a0a0a"/>
<circle cx="337.6" cy="276.3" r="2.0" fill="#0a0a0a"/>
<circle cx="340.2" cy="276.1" r="2.0" fill="#0a0a0a"/>
<circle cx="342.4" cy="276.4" r="2.0" fill="#0a0a0a"/>
<circle cx="345.5" cy="276.4" r="2.0" fill="#0a0a0a"/>
<circle cx="347.2" cy="275.9" r="2.0" fill="#0a0a0a"/>
<circle cx="349.9" cy="276.0" r="2.0" fill="#0a0a0a"/>
<circle cx="352.1" cy="275.9" r="2.0" fill="#0a0a0a"/>
<circle cx="354.5" cy="275.6" r="2.0" fill="#0a0a0a"/>
<circle cx="324.8" cy="278.0" r="2.0" fill="#0a0a0a"/>
<circle cx="327.1" cy="278.2" r="2.0" fill="#0a0a0a"/>
<circle cx="329.8" cy="277.9" r="2.0" fill="#0a0a0a"/>
<circle cx="331.8" cy="278.2" r="2.0" fill="#0a0a0a"/>
<circle cx="334.5" cy="278.5" r="2.0" fill="#0a0a0a"/>
<circle cx="337.0" cy="277.7" r="2.0" fill="#0a0a0a"/>
<circle cx="339.0" cy="277.7" r="2.0" fill="#0a0a0a"/>
<circle cx="341.1" cy="278.2" r="2.0" fill="#0a0a0a"/>
<circle cx="344.0" cy="278.0" r="2.0" fill="#0a0a0a"/>
<circle cx="345.8" cy="278.1" r="2.0" fill="#0a0a0a"/>
<circle cx="348.9" cy="278.0" r="2.0" fill="#0a0a0a"/>
<circle cx="350.8" cy="278.2" r="2.0" fill="#0a0a0a"/>
<circle cx="323.3" cy="280.5" r="2.0" fill="#0a0a0a"/>
<circle cx="325.4" cy="280.4" r="2.0" fill="#0a0a0a"/>
<circle cx="328.1" cy="280.3" r="2.0" fill="#0a0a0a"/>
<circle cx="330.9" cy="280.5" r="2.0" fill="#0a0a0a"/>
<circle cx="333.6" cy="280.9" r="2.0" fill="#0a0a0a"/>
<circle cx="335.4" cy="280.8" r="2.0" fill="#0a0a0a"/>
<circle cx="338.3" cy="280.6" r="2.0" fill="#0a0a0a"/>
<circle cx="341.0" cy="280.7" r="2.0" fill="#0a0a0a"/>
<circle cx="342.9" cy="280.3" r="2.0" fill="#0a0a0a"/>
<circle cx="345.0" cy="280.1" r="2.0" fill="#0a0a0a"/>
<circle cx="347.6" cy="280.0" r="2.0" fill="#0a0a0a"/>
<circle cx="349.8" cy="279.9" r="2.0" fill="#0a0a0a"/>
<circle cx="322.7" cy="282.8" r="2.0" fill="#0a0a0a"/>
<circle cx="324.9" cy="282.3" r="2.0" fill="#0a0a0a"/>
<circle cx="327.3" cy="282.8" r="2.0" fill="#0a0a0a"/>
<circle cx="329.2" cy="282.3" r="2.0" fill="#0a0a0a"/>
<circle cx="331.7" cy="282.0" r="2.0" fill="#0a0a0a"/>
<circle cx="336.4" cy="282.6" r="2.0" fill="#0a0a0a"/>
<circle cx="339.4" cy="282.3" r="2.0" fill="#0a0a0a"/>
<circle cx="342.2" cy="281.9" r="2.0" fill="#0a0a0a"/>
<circle cx="323.0" cy="284.6" r="2.0" fill="#0a0a0a"/>
<circle cx="326.2" cy="284.2" r="2.0" fill="#0a0a0a"/>
<circle cx="328.4" cy="284.3" r="2.0" fill="#0a0a0a"/>
<circle cx="330.3" cy="284.0" r="2.0" fill="#0a0a0a"/>
<circle cx="338.4" cy="284.5" r="2.0" fill="#0a0a0a"/>
<circle cx="327.7" cy="286.4" r="2.0" fill="#0a0a0a"/>
<circle cx="329.3" cy="287.1" r="2.0" fill="#0a0a0a"/>
<circle cx="336.6" cy="286.7" r="2.0" fill="#0a0a0a"/>
<circle cx="333.1" cy="288.8" r="2.0" fill="#0a0a0a"/>
<circle cx="319.2" cy="272.3" r="2.0" fill="#0a0a0a"/>
<circle cx="318.1" cy="281.2" r="2.0" fill="#0a0a0a"/>
<circle cx="327.3" cy="291.5" r="2.0" fill="#0a0a0a"/>
<circle cx="338.5" cy="265.8" r="2.0" fill="#0a0a0a"/>
<circle cx="334.2" cy="270.4" r="2.0" fill="#0a0a0a"/>
<circle cx="348.1" cy="284.6" r="2.0" fill="#0a0a0a"/>
<circle cx="351.2" cy="286.5" r="2.0" fill="#0a0a0a"/>
<circle cx="350.4" cy="288.1" r="2.0" fill="#0a0a0a"/>
<circle cx="341.5" cy="286.5" r="2.0" fill="#0a0a0a"/>
<circle cx="346.5" cy="286.2" r="2.0" fill="#0a0a0a"/>
<circle cx="379.6" cy="269.8" r="2.0" fill="#0a0a0a"/>
<circle cx="383.8" cy="272.2" r="2.0" fill="#0a0a0a"/>
<circle cx="375.0" cy="271.0" r="2.0" fill="#0a0a0a"/>
<circle cx="350.8" cy="286.8" r="2.0" fill="#0a0a0a"/>
<circle cx="356.2" cy="285.2" r="2.0" fill="#0a0a0a"/>
<circle cx="359.2" cy="285.2" r="2.0" fill="#0a0a0a"/>
<circle cx="358.5" cy="286.8" r="2.0" fill="#0a0a0a"/>
<circle cx="360.8" cy="288.7" r="2.0" fill="#0a0a0a"/>
<circle cx="365.8" cy="288.3" r="2.0" fill="#0a0a0a"/>
<circle cx="368.5" cy="263.7" r="2.0" fill="#0a0a0a"/>
<circle cx="372.0" cy="266.5" r="2.0" fill="#0a0a0a"/>
<circle cx="310.6" cy="280.8" r="2.0" fill="#0a0a0a"/>
<circle cx="310.6" cy="289.4" r="2.0" fill="#0a0a0a"/>
<circle cx="301.0" cy="292.3" r="2.0" fill="#0a0a0a"/>
<circle cx="285.4" cy="292.1" r="2.0" fill="#0a0a0a"/>
<circle cx="292.7" cy="292.1" r="2.0" fill="#0a0a0a"/>
<circle cx="297.3" cy="292.1" r="2.0" fill="#0a0a0a"/>
<circle cx="300.8" cy="290.4" r="2.0" fill="#0a0a0a"/>
<circle cx="300.8" cy="293.6" r="2.0" fill="#0a0a0a"/>
<circle cx="310.6" cy="281.1" r="2.0" fill="#0a0a0a"/>
<circle cx="319.2" cy="271.9" r="2.0" fill="#0a0a0a"/>
<circle cx="327.3" cy="291.5" r="2.0" fill="#0a0a0a"/>
<circle cx="333.6" cy="271.1" r="2.0" fill="#0a0a0a"/>
<circle cx="408.3" cy="259.3" r="2.0" fill="#0a0a0a"/>
<circle cx="417.5" cy="255.6" r="2.0" fill="#0a0a0a"/>
<circle cx="421.3" cy="259.0" r="2.0" fill="#0a0a0a"/>
<circle cx="422.9" cy="258.5" r="2.0" fill="#0a0a0a"/>
<circle cx="439.2" cy="252.9" r="2.0" fill="#0a0a0a"/>
<circle cx="442.1" cy="257.5" r="2.0" fill="#0a0a0a"/>
<circle cx="446.1" cy="255.8" r="2.0" fill="#0a0a0a"/>
<circle cx="447.8" cy="252.1" r="2.0" fill="#0a0a0a"/>
<circle cx="345.2" cy="271.6" r="1.9" fill="#5a5a90"/>
<text x="112.4" y="53.2" class="an" textLength="48.0" lengthAdjust="spacingAndGlyphs">rs2228145</text>
<text x="102.7" y="68.8" class="an" textLength="67.0" lengthAdjust="spacingAndGlyphs">homozygous C</text>
<rect x="376.3" y="116.6" width="93.1" height="28.6" fill="#dde7f3"/>
<text x="398.6" y="127.6" class="an" textLength="48.0" lengthAdjust="spacingAndGlyphs">rs2228145</text>
<text x="389.5" y="143.0" class="an" textLength="61.9" lengthAdjust="spacingAndGlyphs">heterozygous</text>
<text x="392.7" y="285.6" class="an" textLength="48.1" lengthAdjust="spacingAndGlyphs">rs2228145</text>
<text x="383.5" y="301.7" class="an" textLength="66.9" lengthAdjust="spacingAndGlyphs">homozygous A</text>
<text x="203.8" y="373.6" class="at" textLength="153.0" lengthAdjust="spacingAndGlyphs">Allele-A; VIC-labeled probe</text>
<text transform="translate(18.7,267.6) rotate(-90)" x="0" y="0" class="at" textLength="166.2" lengthAdjust="spacingAndGlyphs">Allele-C; FAM-labeled probe</text>
<text x="3.3" y="20.8" class="pl" textLength="19.6" lengthAdjust="spacingAndGlyphs">A</text>
<text x="3.3" y="436.8" class="pl" textLength="17.6" lengthAdjust="spacingAndGlyphs">B</text>
<line x1="62.6" y1="435.0" x2="62.6" y2="685.3" stroke="#222" stroke-width="1.3"/>
<line x1="60.1" y1="681.8" x2="493.6" y2="682.8" stroke="#222" stroke-width="1.4"/>
<line x1="60.1" y1="681.8" x2="62.6" y2="681.8" stroke="#222" stroke-width="1.2"/>
<text x="53.7" y="684.9" class="tb" text-anchor="end">0</text>
<line x1="60.1" y1="632.4" x2="62.6" y2="632.4" stroke="#222" stroke-width="1.2"/>
<text x="53.7" y="635.5" class="tb" text-anchor="end">50</text>
<line x1="60.1" y1="583.1" x2="62.6" y2="583.1" stroke="#222" stroke-width="1.2"/>
<text x="53.7" y="586.2" class="tb" text-anchor="end">100</text>
<line x1="60.1" y1="533.7" x2="62.6" y2="533.7" stroke="#222" stroke-width="1.2"/>
<text x="53.7" y="536.8" class="tb" text-anchor="end">150</text>
<line x1="60.1" y1="484.4" x2="62.6" y2="484.4" stroke="#222" stroke-width="1.2"/>
<text x="53.7" y="487.5" class="tb" text-anchor="end">200</text>
<line x1="60.1" y1="435.0" x2="62.6" y2="435.0" stroke="#222" stroke-width="1.2"/>
<text x="53.7" y="438.1" class="tb" text-anchor="end">250</text>
<line x1="62.6" y1="681.8" x2="62.6" y2="685.8" stroke="#222" stroke-width="1.2"/>
<line x1="206.3" y1="681.8" x2="206.3" y2="685.8" stroke="#222" stroke-width="1.2"/>
<line x1="349.9" y1="681.8" x2="349.9" y2="685.8" stroke="#222" stroke-width="1.2"/>
<line x1="493.6" y1="681.8" x2="493.6" y2="685.8" stroke="#222" stroke-width="1.2"/>
<line x1="135.5" y1="582.8" x2="135.5" y2="617.0" stroke="#111" stroke-width="1.3"/>
<line x1="135.5" y1="640.0" x2="135.5" y2="653.8" stroke="#111" stroke-width="1.3"/>
<line x1="133.0" y1="582.8" x2="138.0" y2="582.8" stroke="#111" stroke-width="1.3"/>
<line x1="133.0" y1="653.8" x2="138.0" y2="653.8" stroke="#111" stroke-width="1.3"/>
<rect x="106.5" y="617.0" width="57.0" height="23.0" fill="#afdb8e" stroke="#33501c" stroke-width="1.2"/>
<line x1="106.5" y1="630.5" x2="163.5" y2="630.5" stroke="#33501c" stroke-width="1.9"/>
<line x1="278.5" y1="521.3" x2="278.5" y2="590.0" stroke="#111" stroke-width="1.3"/>
<line x1="278.5" y1="634.2" x2="278.5" y2="638.2" stroke="#111" stroke-width="1.3"/>
<line x1="276.0" y1="521.3" x2="281.0" y2="521.3" stroke="#111" stroke-width="1.3"/>
<line x1="276.0" y1="638.2" x2="281.0" y2="638.2" stroke="#111" stroke-width="1.3"/>
<rect x="249.5" y="590.0" width="58.2" height="44.2" fill="#8db3e2" stroke="#243f60" stroke-width="1.2"/>
<line x1="249.5" y1="605.8" x2="307.7" y2="605.8" stroke="#243f60" stroke-width="1.9"/>
<line x1="422.6" y1="484.3" x2="422.6" y2="552.3" stroke="#111" stroke-width="1.3"/>
<line x1="422.6" y1="618.6" x2="422.6" y2="643.5" stroke="#111" stroke-width="1.3"/>
<line x1="420.1" y1="484.3" x2="425.1" y2="484.3" stroke="#111" stroke-width="1.3"/>
<line x1="420.1" y1="643.5" x2="425.1" y2="643.5" stroke="#111" stroke-width="1.3"/>
<rect x="393.9" y="552.3" width="57.7" height="66.3" fill="#fe6666" stroke="#5a1a1a" stroke-width="1.2"/>
<line x1="393.9" y1="583.3" x2="451.6" y2="583.3" stroke="#5a1a1a" stroke-width="1.9"/>
<path d="M132.3,504.8 L136.7,509.2 M136.7,504.8 L132.3,509.2" stroke="#111" stroke-width="1.5" stroke-linecap="round"/>
<path d="M275.5,481.4 L280.5,486.4 M280.5,481.4 L275.5,486.4" stroke="#111" stroke-width="1.5" stroke-linecap="round"/>
<path d="M133.3,443.7 Q133.3,438.2 137.8,438.2 L274.0,438.2 Q278.5,438.2 278.5,433.7 Q278.5,438.2 283.0,438.2 L419.0,438.2 Q423.5,438.2 423.5,443.7" fill="none" stroke="#777" stroke-width="1.2"/>
<path d="M136.8,474.1 Q136.8,468.6 141.3,468.6 L202.5,468.6 Q207.0,468.6 207.0,464.1 Q207.0,468.6 211.5,468.6 L273.5,468.6 Q278.0,468.6 278.0,474.1" fill="none" stroke="#777" stroke-width="1.2"/>
<path d="M278.0,474.1 Q278.0,468.6 282.5,468.6 L345.9,468.6 Q350.4,468.6 350.4,464.1 Q350.4,468.6 354.9,468.6 L418.7,468.6 Q423.2,468.6 423.2,474.1" fill="none" stroke="#777" stroke-width="1.2"/>
<text x="258.8" y="429.2" class="pv" textLength="40.9" lengthAdjust="spacingAndGlyphs"><tspan font-style="italic">P</tspan> &lt; .001</text>
<text x="187.5" y="459.2" class="pv" textLength="41.3" lengthAdjust="spacingAndGlyphs"><tspan font-style="italic">P</tspan> = .054</text>
<text x="328.0" y="459.2" class="pv" textLength="41.6" lengthAdjust="spacingAndGlyphs"><tspan font-style="italic">P</tspan> = .350</text>
<text x="91.5" y="703.5" class="cl" textLength="86.7" lengthAdjust="spacingAndGlyphs">AC no change</text>
<text x="250.8" y="703.5" class="cl" textLength="62.2" lengthAdjust="spacingAndGlyphs">AC amp A</text>
<text x="394.7" y="703.5" class="cl" textLength="62.8" lengthAdjust="spacingAndGlyphs">AC amp C</text>
<text transform="translate(29.2,598) rotate(-90)" x="0" y="0" class="at" textLength="77.3" lengthAdjust="spacingAndGlyphs">sIL-6r (ng/ml)</text>
</svg>
</body></html>
